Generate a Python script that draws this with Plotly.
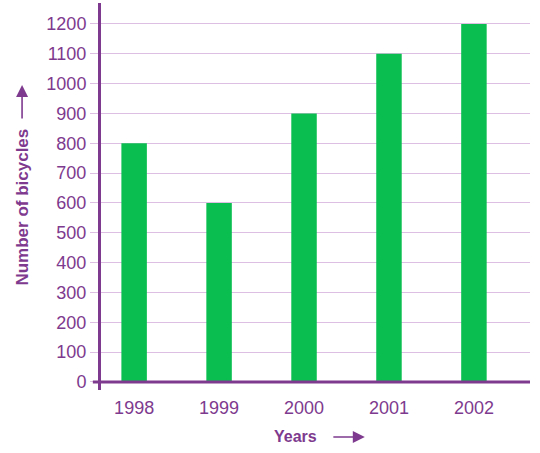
import plotly.graph_objects as go

years = ["1998", "1999", "2000", "2001", "2002"]
bicycles = [800, 600, 900, 1100, 1200]
y_ticks = list(range(0, 1201, 100))

purple = "#7E3A8E"
grid = "#DDBFE3"
green = "#0ABF50"

fig = go.Figure(go.Bar(x=years, y=bicycles, width=0.3, marker_color=green,
                       marker_line_width=0))

fig.update_layout(
    width=540, height=453,
    margin=dict(l=101, r=10, t=3, b=63, autoexpand=False),
    plot_bgcolor="white", paper_bgcolor="white",
    font=dict(family="Liberation Sans", color=purple, size=18),
    showlegend=False,
    xaxis=dict(type="category", range=[-0.39, 4.66], showgrid=False,
               showline=False, zeroline=False, ticks="outside", ticklen=1,
               tickcolor="rgba(0,0,0,0)", tickfont=dict(size=18, color=purple)),
    yaxis=dict(range=[-27, 1270], tickvals=y_ticks, showgrid=True, gridcolor=grid,
               gridwidth=1, zeroline=False, showline=True, linecolor=purple,
               linewidth=3, ticks="outside", ticklen=8, tickcolor=grid,
               tickfont=dict(size=18, color=purple)),
)

# x axis line at zero, extending slightly left of the y axis
fig.add_shape(type="line", xref="paper", yref="y", x0=-0.019, x1=1, y0=0, y1=0,
              line=dict(color=purple, width=3))

# axis titles with arrows
fig.add_annotation(xref="paper", yref="paper", x=-0.184, y=0.4716,
                   xanchor="center", yanchor="middle",
                   text="<b>Number of bicycles</b>", textangle=-90, showarrow=False,
                   font=dict(size=17, color=purple))
fig.add_annotation(xref="paper", yref="paper", x=-0.184, y=0.788, text="",
                   showarrow=True, ax=0, ay=35, arrowhead=2, arrowsize=1.5,
                   arrowwidth=1.6, arrowcolor=purple)
fig.add_annotation(xref="paper", yref="paper", x=0.4545, y=-0.1214,
                   xanchor="center", yanchor="middle",
                   text="<b>Years</b>", showarrow=False,
                   font=dict(size=16, color=purple))
fig.add_annotation(xref="paper", yref="paper", x=0.615, y=-0.1214, text="",
                   showarrow=True, ax=-33, ay=0, arrowhead=2, arrowsize=1.5,
                   arrowwidth=1.6, arrowcolor=purple)

# drop the default page margin so the figure sits at the window corner
fig.write_html("out.html", config={"displayModeBar": False},
               post_script="document.body.style.margin='0';")
